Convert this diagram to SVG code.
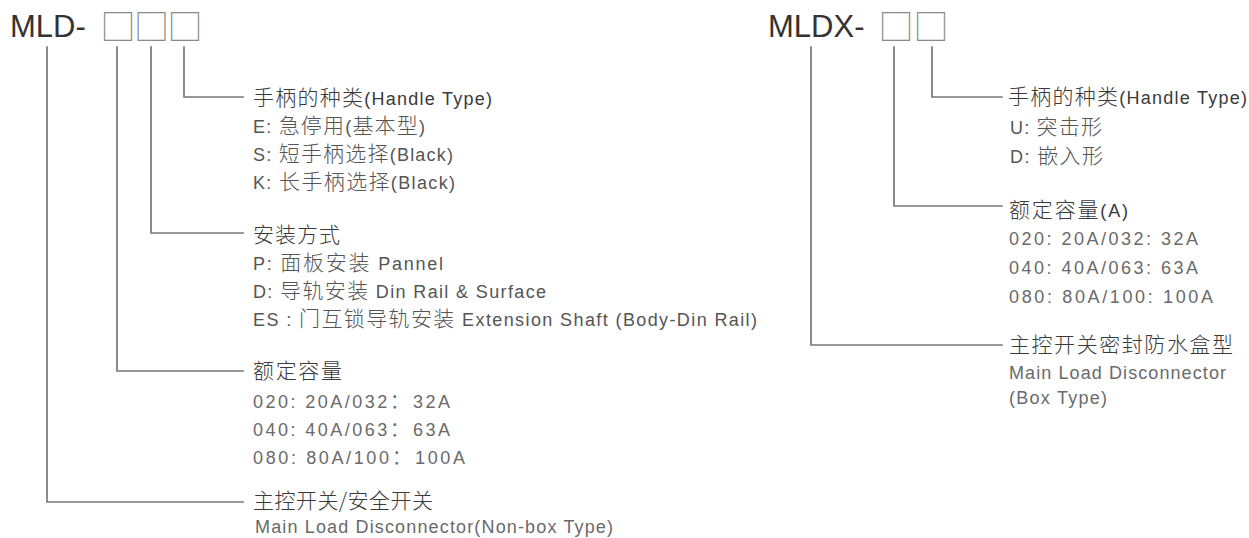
<svg xmlns="http://www.w3.org/2000/svg" width="1249" height="538" viewBox="0 0 1249 538">
<style>
text{font-family:"Liberation Sans","Noto Sans CJK SC",sans-serif;font-size:18px;fill:#555}
.c{font-family:"Noto Sans CJK SC",sans-serif;font-size:21px;font-weight:300}
.h{fill:#3a3a3a}
.d{fill:#6a6a6a}
.title{font-size:31px;fill:#333}
.box{font-family:"Noto Sans CJK SC",sans-serif;font-size:35px;font-weight:300;fill:#8a8a8a}
.ln{fill:none;stroke:#777;stroke-width:1.7;stroke-linejoin:miter;stroke-linecap:square}
</style>
<rect width="1249" height="538" fill="#fff"/>
<g id="title-left">
<text class="title" x="10" y="37">MLD-<tspan class="box" x="100.5" y="40">□</tspan><tspan class="box" x="134" y="40">□</tspan><tspan class="box" x="167.5" y="40">□</tspan></text>
</g>
<g id="title-right">
<text class="title" x="768" y="37">MLDX-<tspan class="box" x="878.5" y="40">□</tspan><tspan class="box" x="913.5" y="40">□</tspan></text>
</g>
<g id="connectors">
<polyline class="ln" points="184,47 184,97 243,97"/>
<polyline class="ln" points="151,47 151,233 243,233"/>
<polyline class="ln" points="117,47 117,371 243,371"/>
<polyline class="ln" points="47,47 47,502 243,502"/>
<polyline class="ln" points="932,47 932,97 1002,97"/>
<polyline class="ln" points="894,47 894,206 1002,206"/>
<polyline class="ln" points="811,47 811,345 1002,345"/>
</g>
<g id="node-handle-left">
<text class="h" x="253" y="105" textLength="239" lengthAdjust="spacing"><tspan class="c">手柄的种类</tspan>(Handle Type)</text>
<text x="253" y="133" textLength="172" lengthAdjust="spacing">E: <tspan class="c">急停用</tspan>(<tspan class="c">基本型</tspan>)</text>
<text x="253" y="161" textLength="200" lengthAdjust="spacing">S: <tspan class="c">短手柄选择</tspan>(Black)</text>
<text x="253" y="189" textLength="202" lengthAdjust="spacing">K: <tspan class="c">长手柄选择</tspan>(Black)</text>
</g>
<g id="node-mount-left">
<text class="h" x="253" y="242" textLength="87" lengthAdjust="spacing"><tspan class="c">安装方式</tspan></text>
<text x="253" y="270" textLength="190" lengthAdjust="spacing">P: <tspan class="c">面板安装</tspan>  Pannel</text>
<text x="253" y="298" textLength="293" lengthAdjust="spacing">D: <tspan class="c">导轨安装</tspan>  Din Rail &amp; Surface</text>
<text x="253" y="326" textLength="504" lengthAdjust="spacing">ES : <tspan class="c">门互锁导轨安装</tspan>  Extension Shaft (Body-Din Rail)</text>
</g>
<g id="node-rated-left">
<text class="h" x="253" y="378" textLength="89" lengthAdjust="spacing"><tspan class="c">额定容量</tspan></text>
<text class="d" x="253" y="408" textLength="197" lengthAdjust="spacing">020: 20A/032<tspan class="c">：</tspan>32A</text>
<text class="d" x="253" y="436" textLength="197" lengthAdjust="spacing">040: 40A/063<tspan class="c">：</tspan>63A</text>
<text class="d" x="253" y="464" textLength="212" lengthAdjust="spacing">080: 80A/100<tspan class="c">：</tspan>100A</text>
</g>
<g id="node-main-left">
<text class="h" x="253" y="508" textLength="180" lengthAdjust="spacing"><tspan class="c">主控开关/安全开关</tspan></text>
<text class="d" x="255" y="533" textLength="358" lengthAdjust="spacing">Main Load Disconnector(Non-box Type)</text>
</g>
<g id="node-handle-right">
<text class="h" x="1008" y="104" textLength="239" lengthAdjust="spacing"><tspan class="c">手柄的种类</tspan>(Handle Type)</text>
<text x="1010" y="134" textLength="92" lengthAdjust="spacing">U: <tspan class="c">突击形</tspan></text>
<text x="1010" y="163" textLength="93" lengthAdjust="spacing">D: <tspan class="c">嵌入形</tspan></text>
</g>
<g id="node-rated-right">
<text class="h" x="1009" y="217" textLength="119" lengthAdjust="spacing"><tspan class="c">额定容量</tspan>(A)</text>
<text class="d" x="1009" y="244.5" textLength="189" lengthAdjust="spacing">020: 20A/032: 32A</text>
<text class="d" x="1009" y="273.5" textLength="189" lengthAdjust="spacing">040: 40A/063: 63A</text>
<text class="d" x="1009" y="302.5" textLength="204" lengthAdjust="spacing">080: 80A/100: 100A</text>
</g>
<g id="node-main-right">
<text class="h" x="1009" y="352" textLength="224" lengthAdjust="spacing"><tspan class="c">主控开关密封防水盒型</tspan></text>
<text class="d" x="1009" y="378.5" textLength="217" lengthAdjust="spacing">Main Load Disconnector</text>
<text class="d" x="1009" y="403.5" textLength="98" lengthAdjust="spacing">(Box Type)</text>
</g>
</svg>
